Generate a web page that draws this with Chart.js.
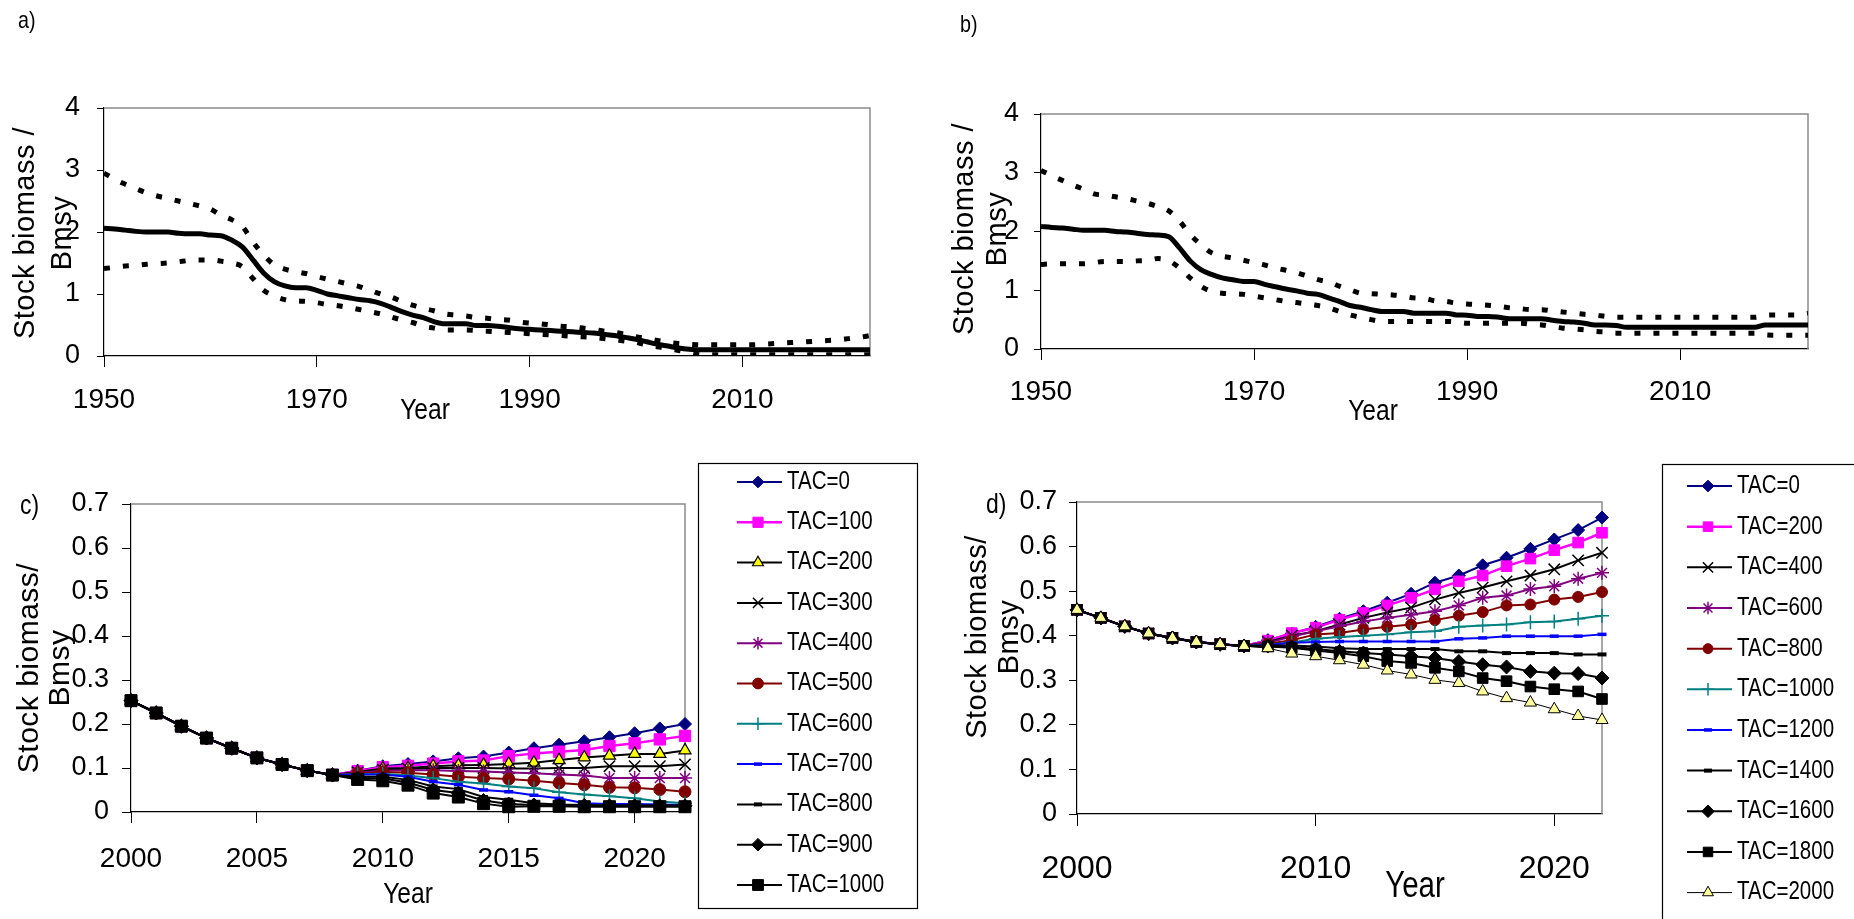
<!DOCTYPE html>
<html lang="en">
<head>
<meta charset="UTF-8">
<title>Stock biomass / Bmsy - historic and projected</title>
<script src="https://cdn.jsdelivr.net/npm/chart.js"></script>
<style>
    * { margin: 0; padding: 0; box-sizing: border-box; }
    body { background: #fff; width: 1854px; height: 919px; overflow: hidden; position: relative; }
    canvas { position: absolute; left: 0; top: 0; }
</style>
</head>
<body>
<canvas id="chartA" width="1854" height="919"></canvas>
<canvas id="chartB" width="1854" height="919"></canvas>
<canvas id="chartC" width="1854" height="919"></canvas>
<canvas id="chartD" width="1854" height="919"></canvas>
<script>
// ---------- data: panels a) and b), 1950-2022 ----------
const yearsAB = [1950, 1951, 1952, 1953, 1954, 1955, 1956, 1957, 1958, 1959,
    1960, 1961, 1962, 1963, 1964, 1965, 1966, 1967, 1968, 1969,
    1970, 1971, 1972, 1973, 1974, 1975, 1976, 1977, 1978, 1979,
    1980, 1981, 1982, 1983, 1984, 1985, 1986, 1987, 1988, 1989,
    1990, 1991, 1992, 1993, 1994, 1995, 1996, 1997, 1998, 1999,
    2000, 2001, 2002, 2003, 2004, 2005, 2006, 2007, 2008, 2009,
    2010, 2011, 2012, 2013, 2014, 2015, 2016, 2017, 2018, 2019,
    2020, 2021, 2022];
const xTicksAB = [1950, 1970, 1990, 2010];
const yTicksAB = [0, 1, 2, 3, 4];

const medianA = [2.06, 2.05, 2.03, 2.01, 2.00, 2.00, 2.00, 1.98, 1.97, 1.97,
    1.95, 1.94, 1.87, 1.76, 1.55, 1.34, 1.20, 1.13, 1.10, 1.10,
    1.06, 1.00, 0.97, 0.94, 0.91, 0.89, 0.85, 0.785, 0.715, 0.66,
    0.62, 0.555, 0.52, 0.52, 0.52, 0.49, 0.49, 0.48, 0.46, 0.44,
    0.43, 0.42, 0.41, 0.40, 0.39, 0.38, 0.37, 0.35, 0.33, 0.30,
    0.27, 0.23, 0.19, 0.16, 0.13, 0.11, 0.10, 0.10, 0.10, 0.10,
    0.10, 0.10, 0.10, 0.10, 0.10, 0.10, 0.10, 0.10, 0.10, 0.10,
    0.10, 0.10, 0.10];
const upperA = [2.95, 2.85, 2.77, 2.70, 2.63, 2.58, 2.54, 2.50, 2.46, 2.42,
    2.37, 2.27, 2.20, 2.09, 1.84, 1.63, 1.47, 1.40, 1.36, 1.33,
    1.28, 1.24, 1.20, 1.16, 1.12, 1.06, 1.00, 0.95, 0.88, 0.82,
    0.77, 0.73, 0.68, 0.66, 0.645, 0.62, 0.61, 0.59, 0.58, 0.55,
    0.53, 0.52, 0.50, 0.48, 0.47, 0.45, 0.43, 0.40, 0.38, 0.35,
    0.31, 0.28, 0.25, 0.22, 0.20, 0.19, 0.18, 0.18, 0.18, 0.18,
    0.18, 0.18, 0.19, 0.20, 0.21, 0.22, 0.23, 0.24, 0.25, 0.26,
    0.28, 0.30, 0.33];
const lowerA = [1.41, 1.43, 1.45, 1.46, 1.48, 1.49, 1.50, 1.52, 1.54, 1.55,
    1.55, 1.53, 1.50, 1.44, 1.25, 1.06, 0.97, 0.91, 0.89, 0.88,
    0.86, 0.83, 0.81, 0.78, 0.75, 0.715, 0.68, 0.63, 0.58, 0.54,
    0.48, 0.45, 0.42, 0.42, 0.42, 0.41, 0.40, 0.39, 0.38, 0.37,
    0.36, 0.35, 0.34, 0.33, 0.32, 0.31, 0.30, 0.28, 0.26, 0.24,
    0.22, 0.18, 0.15, 0.12, 0.09, 0.06, 0.03, 0.02, 0.02, 0.02,
    0.02, 0.02, 0.02, 0.02, 0.02, 0.02, 0.02, 0.02, 0.02, 0.02,
    0.02, 0.02, 0.02];

const medianB = [2.085, 2.07, 2.06, 2.04, 2.02, 2.02, 2.02, 2.00, 1.99, 1.97,
    1.95, 1.94, 1.91, 1.72, 1.50, 1.35, 1.27, 1.21, 1.18, 1.15,
    1.15, 1.10, 1.06, 1.02, 0.99, 0.95, 0.93, 0.87, 0.81, 0.74,
    0.71, 0.67, 0.64, 0.64, 0.64, 0.61, 0.61, 0.61, 0.61, 0.58,
    0.575, 0.555, 0.555, 0.54, 0.515, 0.515, 0.515, 0.515, 0.49, 0.47,
    0.46, 0.44, 0.41, 0.41, 0.40, 0.37, 0.37, 0.37, 0.37, 0.37,
    0.37, 0.37, 0.37, 0.37, 0.37, 0.37, 0.37, 0.37, 0.41, 0.41,
    0.41, 0.41, 0.41];
const upperB = [3.04, 2.95, 2.87, 2.79, 2.72, 2.64, 2.62, 2.59, 2.56, 2.52,
    2.48, 2.42, 2.35, 2.18, 1.95, 1.78, 1.64, 1.58, 1.55, 1.51,
    1.47, 1.43, 1.38, 1.34, 1.30, 1.24, 1.18, 1.14, 1.07, 1.01,
    0.95, 0.94, 0.93, 0.92, 0.90, 0.87, 0.86, 0.82, 0.81, 0.78,
    0.765, 0.755, 0.745, 0.725, 0.70, 0.685, 0.67, 0.67, 0.65, 0.63,
    0.61, 0.59, 0.58, 0.555, 0.54, 0.54, 0.54, 0.54, 0.54, 0.54,
    0.54, 0.54, 0.54, 0.54, 0.54, 0.54, 0.54, 0.54, 0.575, 0.58,
    0.58, 0.58, 0.61];
const lowerB = [1.44, 1.45, 1.45, 1.45, 1.45, 1.47, 1.49, 1.49, 1.49, 1.50,
    1.51, 1.54, 1.50, 1.38, 1.21, 1.07, 0.98, 0.95, 0.94, 0.93,
    0.90, 0.87, 0.84, 0.81, 0.79, 0.765, 0.74, 0.70, 0.64, 0.58,
    0.54, 0.50, 0.47, 0.47, 0.47, 0.47, 0.47, 0.47, 0.47, 0.46,
    0.44, 0.44, 0.44, 0.44, 0.44, 0.44, 0.42, 0.41, 0.38, 0.355,
    0.34, 0.325, 0.30, 0.29, 0.27, 0.27, 0.27, 0.27, 0.27, 0.27,
    0.27, 0.27, 0.27, 0.27, 0.27, 0.27, 0.27, 0.27, 0.24, 0.235,
    0.235, 0.235, 0.235];

// ---------- data: panels c) and d), 2000-2022 ----------
const yearsCD = [2000, 2001, 2002, 2003, 2004, 2005, 2006, 2007, 2008, 2009, 2010, 2011,
    2012, 2013, 2014, 2015, 2016, 2017, 2018, 2019, 2020, 2021, 2022];
const xTicksC = [2000, 2005, 2010, 2015, 2020];
const xTicksD = [2000, 2010, 2020];
const yTicksCD = [0, 0.1, 0.2, 0.3, 0.4, 0.5, 0.6, 0.7];

const labelsC = ['TAC=0', 'TAC=100', 'TAC=200', 'TAC=300', 'TAC=400', 'TAC=500',
    'TAC=600', 'TAC=700', 'TAC=800', 'TAC=900', 'TAC=1000'];
const tacC0    = [0.253, 0.225, 0.195, 0.168, 0.145, 0.123, 0.108, 0.094, 0.084, 0.094, 0.104, 0.109, 0.115, 0.122, 0.126, 0.135, 0.145, 0.153, 0.161, 0.170, 0.179, 0.190, 0.200];
const tacC100  = [0.253, 0.225, 0.195, 0.168, 0.145, 0.123, 0.108, 0.094, 0.084, 0.093, 0.102, 0.105, 0.110, 0.115, 0.117, 0.127, 0.133, 0.137, 0.141, 0.150, 0.156, 0.165, 0.173];
const tacC200  = [0.253, 0.225, 0.195, 0.168, 0.145, 0.123, 0.108, 0.094, 0.084, 0.091, 0.099, 0.100, 0.104, 0.106, 0.107, 0.109, 0.112, 0.118, 0.124, 0.128, 0.132, 0.132, 0.140];
const tacC300  = [0.253, 0.225, 0.195, 0.168, 0.145, 0.123, 0.108, 0.094, 0.084, 0.090, 0.096, 0.098, 0.100, 0.100, 0.100, 0.099, 0.099, 0.100, 0.100, 0.104, 0.104, 0.104, 0.108];
const tacC400  = [0.253, 0.225, 0.195, 0.168, 0.145, 0.123, 0.108, 0.094, 0.084, 0.089, 0.094, 0.095, 0.095, 0.093, 0.092, 0.090, 0.088, 0.085, 0.083, 0.077, 0.077, 0.077, 0.077];
const tacC500  = [0.253, 0.225, 0.195, 0.168, 0.145, 0.123, 0.108, 0.094, 0.084, 0.088, 0.091, 0.089, 0.085, 0.080, 0.077, 0.075, 0.071, 0.066, 0.062, 0.056, 0.055, 0.051, 0.046];
const tacC600  = [0.253, 0.225, 0.195, 0.168, 0.145, 0.123, 0.108, 0.094, 0.084, 0.086, 0.087, 0.083, 0.077, 0.069, 0.065, 0.058, 0.054, 0.045, 0.040, 0.036, 0.031, 0.024, 0.020];
const tacC700  = [0.253, 0.225, 0.195, 0.168, 0.145, 0.123, 0.108, 0.094, 0.084, 0.085, 0.085, 0.080, 0.069, 0.062, 0.050, 0.046, 0.038, 0.031, 0.020, 0.018, 0.018, 0.017, 0.016];
const tacC800  = [0.253, 0.225, 0.195, 0.168, 0.145, 0.123, 0.108, 0.094, 0.084, 0.080, 0.080, 0.073, 0.058, 0.052, 0.034, 0.028, 0.020, 0.017, 0.016, 0.015, 0.015, 0.015, 0.015];
const tacC900  = [0.253, 0.225, 0.195, 0.168, 0.145, 0.123, 0.108, 0.094, 0.084, 0.077, 0.076, 0.067, 0.050, 0.043, 0.026, 0.018, 0.016, 0.015, 0.015, 0.014, 0.014, 0.014, 0.014];
const tacC1000 = [0.253, 0.225, 0.195, 0.168, 0.145, 0.123, 0.108, 0.094, 0.084, 0.074, 0.071, 0.061, 0.043, 0.034, 0.019, 0.012, 0.013, 0.013, 0.012, 0.012, 0.012, 0.012, 0.012];

const labelsD = ['TAC=0', 'TAC=200', 'TAC=400', 'TAC=600', 'TAC=800', 'TAC=1000',
    'TAC=1200', 'TAC=1400', 'TAC=1600', 'TAC=1800', 'TAC=2000'];
const tacD0    = [0.458, 0.440, 0.421, 0.405, 0.395, 0.386, 0.381, 0.377, 0.390, 0.405, 0.420, 0.438, 0.455, 0.474, 0.494, 0.519, 0.535, 0.558, 0.575, 0.595, 0.616, 0.637, 0.665];
const tacD200  = [0.458, 0.440, 0.421, 0.405, 0.395, 0.386, 0.381, 0.377, 0.389, 0.406, 0.418, 0.436, 0.451, 0.468, 0.485, 0.504, 0.522, 0.535, 0.556, 0.573, 0.592, 0.609, 0.631];
const tacD400  = [0.458, 0.440, 0.421, 0.405, 0.395, 0.386, 0.381, 0.377, 0.386, 0.400, 0.410, 0.425, 0.440, 0.452, 0.463, 0.481, 0.496, 0.508, 0.522, 0.535, 0.549, 0.569, 0.586];
const tacD600  = [0.458, 0.440, 0.421, 0.405, 0.395, 0.386, 0.381, 0.377, 0.384, 0.398, 0.410, 0.421, 0.432, 0.440, 0.447, 0.455, 0.468, 0.485, 0.490, 0.505, 0.511, 0.528, 0.541];
const tacD800  = [0.458, 0.440, 0.421, 0.405, 0.395, 0.386, 0.381, 0.377, 0.382, 0.390, 0.403, 0.406, 0.414, 0.420, 0.425, 0.435, 0.445, 0.453, 0.468, 0.470, 0.481, 0.487, 0.498];
const tacD1000 = [0.458, 0.440, 0.421, 0.405, 0.395, 0.386, 0.381, 0.377, 0.380, 0.385, 0.393, 0.397, 0.400, 0.403, 0.408, 0.410, 0.420, 0.423, 0.425, 0.430, 0.432, 0.438, 0.445];
const tacD1200 = [0.458, 0.440, 0.421, 0.405, 0.395, 0.386, 0.381, 0.377, 0.379, 0.384, 0.386, 0.387, 0.387, 0.387, 0.387, 0.387, 0.393, 0.395, 0.399, 0.399, 0.399, 0.399, 0.403];
const tacD1400 = [0.458, 0.440, 0.421, 0.405, 0.395, 0.386, 0.381, 0.377, 0.378, 0.378, 0.376, 0.372, 0.370, 0.370, 0.370, 0.370, 0.365, 0.365, 0.361, 0.361, 0.361, 0.358, 0.358];
const tacD1600 = [0.458, 0.440, 0.421, 0.405, 0.395, 0.386, 0.381, 0.377, 0.377, 0.375, 0.370, 0.365, 0.361, 0.358, 0.354, 0.350, 0.342, 0.335, 0.330, 0.320, 0.316, 0.315, 0.305];
const tacD1800 = [0.458, 0.440, 0.421, 0.405, 0.395, 0.386, 0.381, 0.377, 0.376, 0.373, 0.367, 0.361, 0.354, 0.343, 0.339, 0.328, 0.320, 0.305, 0.298, 0.286, 0.280, 0.275, 0.258];
const tacD2000 = [0.458, 0.440, 0.421, 0.405, 0.395, 0.386, 0.381, 0.377, 0.372, 0.360, 0.354, 0.345, 0.335, 0.322, 0.313, 0.301, 0.294, 0.275, 0.260, 0.250, 0.235, 0.220, 0.211];

// ---------- look ----------
const SANS = "'Liberation Sans', Arial, sans-serif";
const NARROW_X = 0.82;   // horizontal squeeze to mimic Arial Narrow
const NAVY = '#000080', MAGENTA = '#ff00ff', YELLOW = '#ffff00', PALE = '#ffff99', BLACK = '#000000',
      PURPLE = '#800080', DARKRED = '#800000', TEAL = '#008080', BLUE = '#0000ff';

// series look for c) and d): line colour, marker, fill, radius, marker line width, line width
const seriesStylesC = [
    { c: NAVY, m: 'rectRot', f: NAVY, r: 6.5, bw: 1, lw: 2 },
    { c: MAGENTA, m: 'rect', f: MAGENTA, r: 8, bw: 1, lw: 2.5 },
    { c: BLACK, m: 'triangle', f: YELLOW, r: 7, bw: 1.2, lw: 2 },
    { c: BLACK, m: 'crossRot', f: BLACK, r: 8, bw: 1.5, lw: 2 },
    { c: PURPLE, m: 'star', f: PURPLE, r: 7, bw: 1.5, lw: 2 },
    { c: DARKRED, m: 'circle', f: DARKRED, r: 6, bw: 1, lw: 2 },
    { c: TEAL, m: 'cross', f: TEAL, r: 7, bw: 1.5, lw: 2 },
    { c: BLUE, m: 'line', f: BLUE, r: 4.5, bw: 3.5, lw: 2 },
    { c: BLACK, m: 'line', f: BLACK, r: 4.5, bw: 4, lw: 2 },
    { c: BLACK, m: 'rectRot', f: BLACK, r: 7, bw: 1, lw: 2 },
    { c: BLACK, m: 'rect', f: BLACK, r: 8.5, bw: 1, lw: 2 }
];
const seriesStylesD = [
    { c: NAVY, m: 'rectRot', f: NAVY, r: 6.5, bw: 1, lw: 2 },
    { c: MAGENTA, m: 'rect', f: MAGENTA, r: 7.5, bw: 1, lw: 2.5 },
    { c: BLACK, m: 'crossRot', f: BLACK, r: 8, bw: 1.5, lw: 2 },
    { c: PURPLE, m: 'star', f: PURPLE, r: 7, bw: 1.5, lw: 2 },
    { c: DARKRED, m: 'circle', f: DARKRED, r: 5.5, bw: 1, lw: 2 },
    { c: TEAL, m: 'cross', f: TEAL, r: 7, bw: 1.5, lw: 2 },
    { c: BLUE, m: 'line', f: BLUE, r: 4.5, bw: 3.5, lw: 2 },
    { c: BLACK, m: 'line', f: BLACK, r: 4.5, bw: 4, lw: 2 },
    { c: BLACK, m: 'rectRot', f: BLACK, r: 7, bw: 1, lw: 2 },
    { c: BLACK, m: 'rect', f: BLACK, r: 7.5, bw: 1, lw: 2 },
    { c: BLACK, m: 'triangle', f: PALE, r: 7, bw: 1, lw: 1 }
];

const drawPt = (Chart.helpers && Chart.helpers.drawPoint) || function (ctx, o, x, y) {
    ctx.beginPath();
    ctx.arc(x, y, o.radius, 0, Math.PI * 2);
    ctx.fill();
    ctx.stroke();
};

function pts(xs, ys) {
    return xs.map((x, i) => ({ x: x, y: ys[i] }));
}

// ---------- plugins ----------
// gray top/right edge of the plot box
const frame = {
    id: 'frame',
    beforeDatasetsDraw(chart) {
        const { ctx, chartArea: a } = chart;
        ctx.save();
        ctx.strokeStyle = '#8a8a8a';
        ctx.lineWidth = 1.5;
        ctx.beginPath();
        ctx.moveTo(a.left, a.top);
        ctx.lineTo(a.right, a.top);
        ctx.lineTo(a.right, a.bottom);
        ctx.stroke();
        ctx.restore();
    }
};

// free text: panel letters, axis titles
const freeText = {
    id: 'freeText',
    afterDraw(chart, args, opts) {
        const ctx = chart.ctx;
        (opts.items || []).forEach(it => {
            ctx.save();
            ctx.font = it.font;
            ctx.fillStyle = '#000';
            ctx.textAlign = it.align || 'center';
            ctx.textBaseline = 'middle';
            if ('letterSpacing' in ctx) ctx.letterSpacing = it.spacing || '0px';
            ctx.translate(it.x, it.y);
            if (it.rotate) ctx.rotate(it.rotate * Math.PI / 180);
            if (it.narrow) ctx.scale(NARROW_X, 1);
            ctx.fillText(it.text, 0, 0);
            ctx.restore();
        });
    }
};

// boxed legend with line + marker samples, like the spreadsheet one
const boxLegend = {
    id: 'boxLegend',
    afterDraw(chart, args, o) {
        if (!o.box) return;
        const ctx = chart.ctx;
        ctx.save();
        ctx.strokeStyle = '#000';
        ctx.lineWidth = 1.2;
        ctx.strokeRect(o.box[0] + 0.5, o.box[1] + 0.5, o.box[2], o.box[3]);
        ctx.font = o.font;
        ctx.textBaseline = 'middle';
        ctx.textAlign = 'left';
        chart.data.datasets.forEach((ds, i) => {
            const y = o.y0 + i * o.step;
            ctx.strokeStyle = ds.borderColor;
            ctx.lineWidth = ds.borderWidth;
            ctx.beginPath();
            ctx.moveTo(o.x0, y);
            ctx.lineTo(o.x1, y);
            ctx.stroke();
            ctx.fillStyle = ds.pointBackgroundColor;
            ctx.strokeStyle = ds.pointBorderColor;
            ctx.lineWidth = ds.pointBorderWidth;
            drawPt(ctx, { pointStyle: ds.pointStyle, radius: ds.pointRadius * 0.9, borderWidth: ds.pointBorderWidth, rotation: 0 }, o.xm, y);
            ctx.save();
            ctx.fillStyle = '#000';
            ctx.translate(o.xt, y);
            ctx.scale(NARROW_X, 1);
            ctx.fillText(ds.label, 0, 0);
            ctx.restore();
        });
        ctx.restore();
    }
};

// ---------- axes ----------
const Y_W = 80, X_H = 100;

function makeScales(s) {
    return {
        x: {
            type: 'linear', min: s.xMin, max: s.xMax,
            afterBuildTicks: sc => { sc.ticks = s.xTicks.map(v => ({ value: v })); },
            afterFit: sc => { sc.height = X_H; },
            grid: { display: true, drawOnChartArea: false, drawTicks: true, tickLength: s.xTickLen, color: '#000', lineWidth: 1 },
            border: { display: true, color: '#000', width: 1.2 },
            ticks: { color: '#000', font: { family: SANS, size: s.xFont }, padding: s.xPad, maxRotation: 0, autoSkip: false, callback: v => String(v) }
        },
        y: {
            type: 'linear', min: 0, max: s.yMax,
            afterBuildTicks: sc => { sc.ticks = s.yTicks.map(v => ({ value: v })); },
            afterFit: sc => { sc.width = Y_W; },
            grid: { display: true, drawOnChartArea: false, drawTicks: true, tickLength: s.yTickLen, color: '#000', lineWidth: 1 },
            border: { display: true, color: '#000', width: 1.2 },
            ticks: { color: '#000', font: { family: SANS, size: s.yFont }, padding: s.yPad, autoSkip: false, callback: v => String(v) }
        }
    };
}

function makeOptions(area, scales, plugins) {
    return {
        responsive: false,
        animation: false,
        events: [],
        layout: { padding: { left: area.l - Y_W, right: 1854 - area.r, top: area.t, bottom: 919 - area.b - X_H } },
        scales: scales,
        plugins: Object.assign({ legend: { display: false }, tooltip: { enabled: false } }, plugins)
    };
}

function bandSets(mid, up, lo) {
    const common = { borderColor: '#000', pointRadius: 0, cubicInterpolationMode: 'monotone', borderCapStyle: 'butt' };
    return [
        Object.assign({ label: 'upper', data: pts(yearsAB, up), borderWidth: 5, borderDash: [6, 13] }, common),
        Object.assign({ label: 'lower', data: pts(yearsAB, lo), borderWidth: 5, borderDash: [6, 13] }, common),
        Object.assign({ label: 'median', data: pts(yearsAB, mid), borderWidth: 5 }, common)
    ];
}

function tacSets(labels, series, styles) {
    return series.map((vals, i) => ({
        label: labels[i],
        data: pts(yearsCD, vals),
        borderColor: styles[i].c,
        borderWidth: styles[i].lw,
        pointStyle: styles[i].m,
        pointRadius: styles[i].r,
        pointBackgroundColor: styles[i].f,
        pointBorderColor: styles[i].m === 'triangle' ? BLACK : styles[i].c,
        pointBorderWidth: styles[i].bw,
        tension: 0,
        clip: false,
        order: -i
    }));
}

function yTitle(line1, x1, x2, y, size) {
    return [
        { text: line1, x: x1, y: y, rotate: -90, font: size + 'px ' + SANS, spacing: '0.5px' },
        { text: 'Bmsy', x: x2, y: y, rotate: -90, font: size + 'px ' + SANS, spacing: '0.5px' }
    ];
}

// ---------- a) ----------
new Chart(document.getElementById('chartA'), {
    type: 'line',
    data: { datasets: bandSets(medianA, upperA, lowerA) },
    options: makeOptions({ l: 104, r: 870, t: 108, b: 356 },
        makeScales({ xMin: 1950, xMax: 2022, xTicks: xTicksAB, xTickLen: 11, xFont: 28, xPad: 16,
                     yMax: 4, yTicks: yTicksAB, yTickLen: 7, yFont: 27, yPad: 17 }),
        { freeText: { items: [
            { text: 'a)', x: 18, y: 21, align: 'left', font: '24px ' + SANS, narrow: true },
            { text: 'Year', x: 425, y: 411, font: '30px ' + SANS, narrow: true }
        ].concat(yTitle('Stock biomass /', 26, 63, 233, 29)) } }),
    plugins: [frame, freeText]
});

// ---------- b) ----------
new Chart(document.getElementById('chartB'), {
    type: 'line',
    data: { datasets: bandSets(medianB, upperB, lowerB) },
    options: makeOptions({ l: 1041, r: 1808, t: 114, b: 349 },
        makeScales({ xMin: 1950, xMax: 2022, xTicks: xTicksAB, xTickLen: 11, xFont: 28, xPad: 15,
                     yMax: 4, yTicks: yTicksAB, yTickLen: 7, yFont: 27, yPad: 15 }),
        { freeText: { items: [
            { text: 'b)', x: 960, y: 25, align: 'left', font: '24px ' + SANS, narrow: true },
            { text: 'Year', x: 1373, y: 412, font: '30px ' + SANS, narrow: true }
        ].concat(yTitle('Stock biomass /', 965, 998, 229, 29)) } }),
    plugins: [frame, freeText]
});

// ---------- c) ----------
new Chart(document.getElementById('chartC'), {
    type: 'line',
    data: { datasets: tacSets(labelsC,
        [tacC0, tacC100, tacC200, tacC300, tacC400, tacC500, tacC600, tacC700, tacC800, tacC900, tacC1000],
        seriesStylesC) },
    options: makeOptions({ l: 131, r: 685, t: 504, b: 812 },
        makeScales({ xMin: 2000, xMax: 2022, xTicks: xTicksC, xTickLen: 11, xFont: 28, xPad: 19,
                     yMax: 0.7, yTicks: yTicksCD, yTickLen: 9, yFont: 27, yPad: 13 }),
        { freeText: { items: [
            { text: 'c)', x: 20, y: 506, align: 'left', font: '28px ' + SANS, narrow: true },
            { text: 'Year', x: 408, y: 895, font: '30px ' + SANS, narrow: true }
        ].concat(yTitle('Stock biomass/', 30, 61, 668, 30)) },
          boxLegend: { box: [698, 463, 219, 445], y0: 482, step: 40.3, x0: 737, x1: 782, xm: 758, xt: 787, font: '25px ' + SANS } }),
    plugins: [frame, freeText, boxLegend]
});

// ---------- d) ----------
new Chart(document.getElementById('chartD'), {
    type: 'line',
    data: { datasets: tacSets(labelsD,
        [tacD0, tacD200, tacD400, tacD600, tacD800, tacD1000, tacD1200, tacD1400, tacD1600, tacD1800, tacD2000],
        seriesStylesD) },
    options: makeOptions({ l: 1077, r: 1602, t: 502, b: 814 },
        makeScales({ xMin: 2000, xMax: 2022, xTicks: xTicksD, xTickLen: 12, xFont: 32, xPad: 24,
                     yMax: 0.7, yTicks: yTicksCD, yTickLen: 8, yFont: 27, yPad: 12 }),
        { freeText: { items: [
            { text: 'd)', x: 986, y: 505, align: 'left', font: '28px ' + SANS, narrow: true },
            { text: 'Year', x: 1415, y: 887, font: '36px ' + SANS, narrow: true }
        ].concat(yTitle('Stock biomass/', 978, 1010, 637, 29)) },
          boxLegend: { box: [1662, 464, 220, 470], y0: 486, step: 40.66, x0: 1687, x1: 1732, xm: 1708, xt: 1737, font: '25px ' + SANS } }),
    plugins: [frame, freeText, boxLegend]
});
</script>
</body>
</html>
